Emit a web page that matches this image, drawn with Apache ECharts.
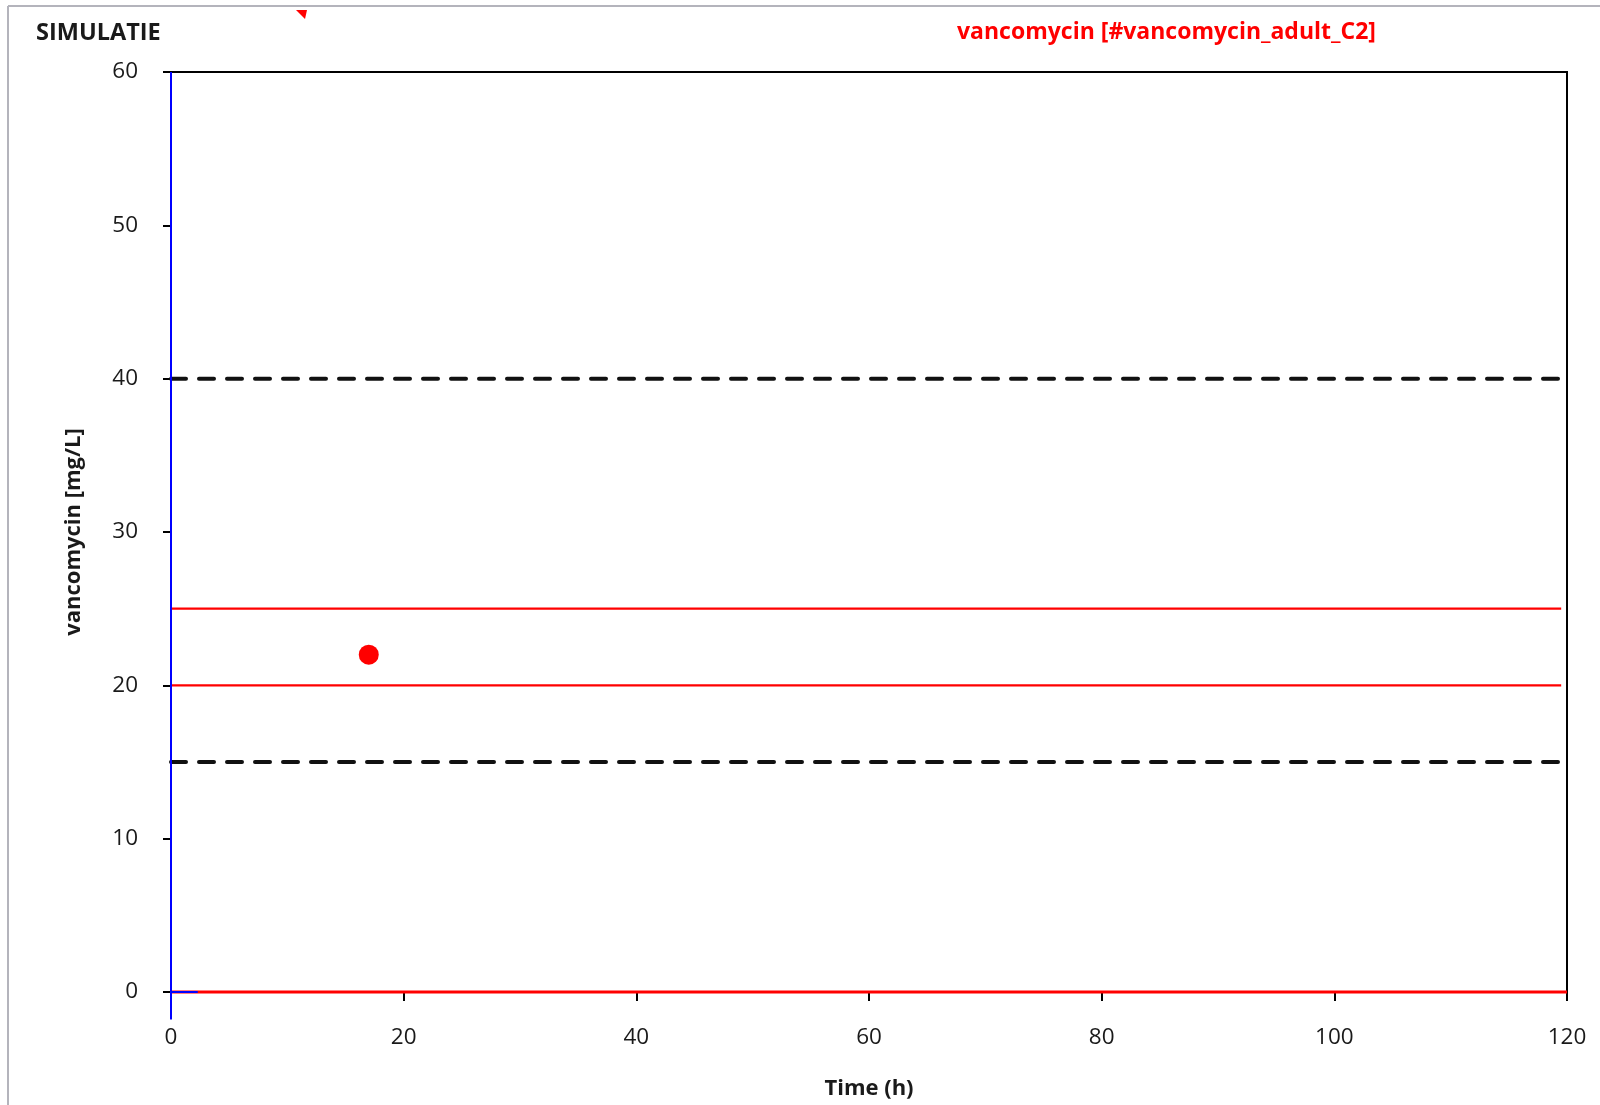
<!DOCTYPE html>
<html>
<head>
<meta charset="utf-8">
<script src="https://cdn.jsdelivr.net/npm/echarts@6/dist/echarts.min.js"></script>
<style>
html,body{margin:0;padding:0;background:#fff;}
#chart{width:1600px;height:1105px;}
</style>
</head>
<body>
<div id="chart"></div>
<script>
// ---- data ----
const chartTitle = 'SIMULATIE';
const drugTitle = 'vancomycin [#vancomycin_adult_C2]';
const xAxisName = 'Time (h)';
const yAxisName = 'vancomycin [mg/L]';

const xRange = [0, 120];
const yRange = [0, 60];
const xTickStep = 20;
const yTickStep = 10;

// dashed black limits
const limitX = [0, 120];
const upperLimit = [40, 40];
const lowerLimit = [15, 15];

// red target band
const targetX = [0, 119.5];
const targetHigh = [25, 25];
const targetLow = [20, 20];

// red baseline (zero concentration)
const baselineX = [0, 120];
const baselineY = [0, 0];

// blue origin cross
const crossVertX = [0, 0];
const crossVertY = [-1.8, 60];
const crossHorzX = [-2.2, 2.3];
const crossHorzY = [0, 0];

// measured level
const measuredX = [17];
const measuredY = [22];

function pairs(xs, ys) { return xs.map((x, i) => [x, ys[i]]); }

const chart = echarts.init(document.getElementById('chart'), null, {renderer: 'canvas'});
const FONT = '"Open Sans", "Noto Sans", sans-serif';

const lineBase = {type: 'line', symbol: 'none', silent: true, clip: false, animation: false};

chart.setOption({
  animation: false,
  backgroundColor: '#fff',
  textStyle: {fontFamily: FONT},
  grid: {
    left: 171, top: 72, right: 33, bottom: 112,
    show: true, borderColor: '#000', borderWidth: 2, backgroundColor: 'transparent'
  },
  graphic: [
    {type: 'line', shape: {x1: 8, y1: 6, x2: 1600, y2: 6}, style: {stroke: '#b4b4bc', lineWidth: 2}},
    {type: 'line', shape: {x1: 8, y1: 6, x2: 8, y2: 1105}, style: {stroke: '#b4b4bc', lineWidth: 2}},
    {type: 'polygon', shape: {points: [[296, 10], [307, 10], [305, 19]]}, style: {fill: '#ff0000'}},
    {type: 'text', left: 36, top: 21, style: {text: chartTitle, font: 'bold 23.5px ' + FONT, fill: '#1a1a1a'}},
    {type: 'text', left: 957, top: 21, style: {text: drugTitle, font: 'bold 23px ' + FONT, fill: '#ff0000'}}
  ],
  xAxis: {
    type: 'value', min: xRange[0], max: xRange[1], interval: xTickStep,
    name: xAxisName, nameLocation: 'middle', nameGap: 86,
    nameTextStyle: {fontSize: 22, fontWeight: 'bold', color: '#1a1a1a', fontFamily: FONT},
    axisLine: {show: true, lineStyle: {color: '#000', width: 2}},
    axisTick: {show: true, inside: false, length: 9, lineStyle: {color: '#000', width: 2}},
    axisLabel: {margin: 34, fontSize: 22.5, color: '#1a1a1a', fontFamily: FONT},
    splitLine: {show: false}
  },
  yAxis: {
    type: 'value', min: yRange[0], max: yRange[1], interval: yTickStep,
    name: yAxisName, nameLocation: 'middle', nameGap: 86, nameRotate: 90,
    nameTextStyle: {fontSize: 22, fontWeight: 'bold', color: '#1a1a1a', fontFamily: FONT},
    axisLine: {show: true, lineStyle: {color: '#000', width: 2}},
    axisTick: {show: true, inside: false, length: 8, lineStyle: {color: '#000', width: 2}},
    axisLabel: {margin: 33, fontSize: 22.5, color: '#1a1a1a', fontFamily: FONT},
    splitLine: {show: false}
  },
  series: [
    Object.assign({}, lineBase, {name: 'upper', data: pairs(limitX, upperLimit),
      lineStyle: {color: '#111', width: 4, type: [15, 13], cap: 'round'}}),
    Object.assign({}, lineBase, {name: 'lower', data: pairs(limitX, lowerLimit),
      lineStyle: {color: '#111', width: 4, type: [15, 13], cap: 'round'}}),
    Object.assign({}, lineBase, {name: 'targetHigh', data: pairs(targetX, targetHigh),
      lineStyle: {color: '#ff0000', width: 2.2}}),
    Object.assign({}, lineBase, {name: 'targetLow', data: pairs(targetX, targetLow),
      lineStyle: {color: '#ff0000', width: 2.2}}),
    Object.assign({}, lineBase, {name: 'baseline', data: pairs(baselineX, baselineY),
      lineStyle: {color: '#ff0000', width: 3}}),
    Object.assign({}, lineBase, {name: 'crossV', z: 10, data: pairs(crossVertX, crossVertY),
      lineStyle: {color: '#0000ff', width: 2}}),
    Object.assign({}, lineBase, {name: 'crossH', z: 10, data: pairs(crossHorzX, crossHorzY),
      lineStyle: {color: '#0000ff', width: 2}}),
    {type: 'scatter', name: 'measured', z: 11, data: pairs(measuredX, measuredY),
      symbol: 'circle', symbolSize: 20, itemStyle: {color: '#ff0000', opacity: 1}, animation: false}
  ]
});
</script>
</body>
</html>
